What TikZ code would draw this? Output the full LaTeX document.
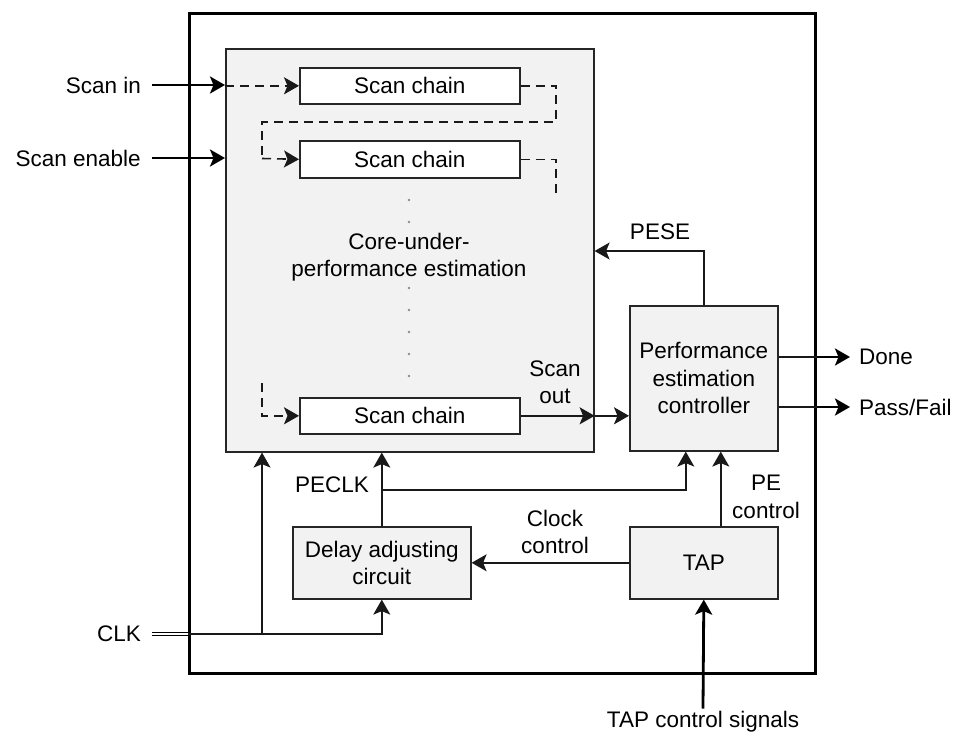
\documentclass[tikz,border=0pt]{standalone}
\usepackage{fontspec}
\setmainfont{Liberation Sans}
\usetikzlibrary{arrows.meta}
\definecolor{bg}{HTML}{F2F2F2}
\newcommand\lblfont{\fontsize{22.5}{27.5}\selectfont}
\begin{document}
\begin{tikzpicture}[x=1pt,y=-1pt,font=\lblfont,
  blk/.style={draw=black!85, line width=1.6pt, inner sep=0pt, anchor=north west, align=center},
  ln/.style={line width=1.6pt, draw=black!90},
  tip/.style={-{Stealth[length=15pt,width=17pt,inset=3.5pt]}},
  arr/.style={ln, tip},
  thickarr/.style={line width=2.8pt, tip},
  dsh/.style={ln, dash pattern=on 9pt off 6pt},
  dotl/.style={line width=2.6pt, gray!90, line cap=round, dash pattern=on 0pt off 22pt},
  dbl/.style={double, double distance=1.2pt, line width=1.4pt},
  lbl/.style={inner ysep=0pt}]
\useasboundingbox (0,0) rectangle (958,731);
% boxes
\node[blk, draw=black, line width=2.6pt, minimum width=626pt, minimum height=660pt] (outer) at (188,12) {};
\node[blk, fill=bg, minimum width=368pt, minimum height=403pt] (core) at (225,48) {};
\node[align=center] (coretxt) at (409,257) {Core-under-\\performance estimation};
\node[blk, fill=white, minimum width=220pt, minimum height=36pt] (sc1) at (299,67) {Scan chain};
\node[blk, fill=white, minimum width=220pt, minimum height=37pt] (sc2) at (299,140) {Scan chain};
\node[blk, fill=white, minimum width=220pt, minimum height=36pt] (sc3) at (299,397) {Scan chain};
\node[blk, fill=bg, minimum width=148pt, minimum height=145pt] (pec) at (629,305) {Performance\\estimation\\controller};
\node[blk, fill=bg, minimum width=178pt, minimum height=72pt] (dac) at (292,526) {Delay adjusting\\circuit};
\node[blk, fill=bg, minimum width=148pt, minimum height=72pt] (tap) at (629,526) {TAP};
% outside labels
\node[lbl, anchor=east, inner xsep=11pt] (lsi) at (152,85) {Scan in};
\node[lbl, anchor=east, inner xsep=11pt] (lse) at (152,158) {Scan enable};
\node[lbl, anchor=east, inner xsep=11pt] (lclk) at (152,634) {CLK};
\node[lbl, anchor=west, inner xsep=9pt] (ldone) at (850,357) {Done};
\node[lbl, anchor=west, inner xsep=9pt] (lpf) at (850,407) {Pass/Fail};
\node[anchor=base, inner ysep=2pt] (ltap) at (703,727) {TAP control signals};
% inside labels
\node[align=center] (lso) at (555,382) {Scan\\out};
\node (lpese) at (660,232) {PESE};
\node (lpeclk) at (332,485) {PECLK};
\node[align=center] (lcc) at (555,532) {Clock\\control};
\node[align=center] (lpec) at (766,497) {PE\\control};
\coordinate (pesey) at (0,251);
\coordinate (pj) at (381,490);
\coordinate (cb) at (262,634);
\coordinate (d3) at (262,383);
\coordinate (dd1) at (556,122);
\coordinate (dd2) at (262,158.5);
\coordinate (dd3) at (556,196);
% scan inputs
\draw[thickarr] (lsi.east) -- (core.west |- lsi.east);
\draw[thickarr] (lse.east) -- (core.west |- lse.east);
\draw[dsh, tip] (core.west |- sc1.west) -- (sc1.west);
\draw[dsh] (sc1.east) -| (dd1) -| (dd2);
\draw[dsh, tip] (dd2) -- (sc2.west);
\draw[dsh] (sc2.east) -| (dd3);
\draw[dsh, tip] (d3) |- (sc3.west);
\draw[dotl] (409,200) -- (409,224);
\draw[dotl] (409,288) -- (409,380);
% scan out
\draw[arr] (sc3.east) -- (core.east |- sc3.east);
\draw[arr] (core.east |- sc3.east) -- (pec.west |- sc3.east);
% PESE
\draw[arr] (pec.north) |- (core.east |- pesey);
% outputs
\draw[ln] (pec.east |- ldone.west) -- (outer.east |- ldone.west);
\draw[thickarr] (outer.east |- ldone.west) -- (ldone.west);
\draw[ln] (pec.east |- lpf.west) -- (outer.east |- lpf.west);
\draw[thickarr] (outer.east |- lpf.west) -- (lpf.west);
% PECLK
\draw[arr] (dac.north) -- (dac.north |- core.south);
\draw[arr] (pj) -| ([xshift=-18pt]pec.south);
% TAP
\draw[arr] (tap.west) -- (dac.east);
\draw[arr] ([xshift=17pt]tap.north) -- ([xshift=17pt]pec.south);
\draw[thickarr] (ltap.north) -- (tap.south);
% CLK
\draw[dbl] (lclk.east) -- (outer.west |- lclk.east);
\draw[arr] (outer.west |- lclk.east) -| (dac.south);
\draw[arr] (cb) -- (cb |- core.south);
\end{tikzpicture}
\end{document}
